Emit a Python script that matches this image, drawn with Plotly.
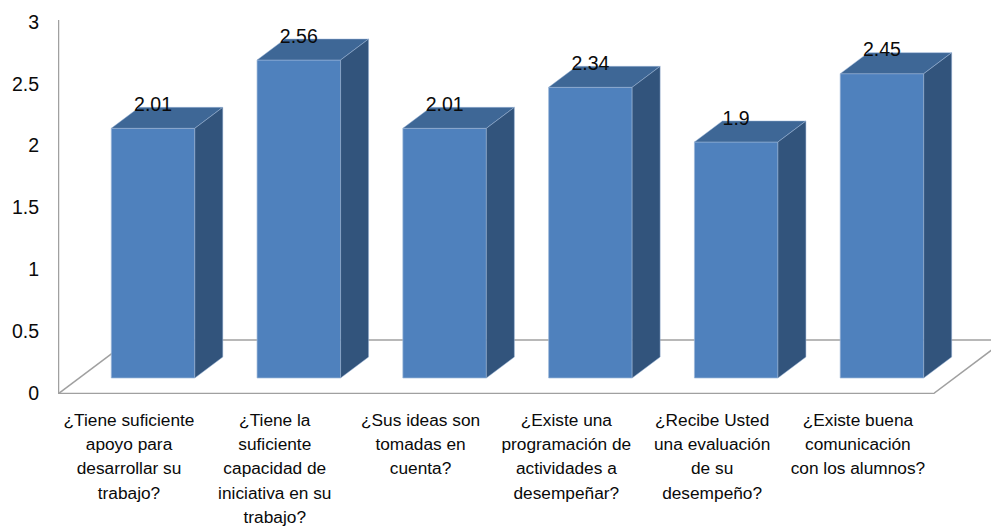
"""Columnas 3D de estilo Excel dibujadas con trazas 2D de Plotly."""

import plotly.graph_objects as go

# ── Datos ─────────────────────────────────────────────────────────────────────
PREGUNTAS = [
    ["¿Tiene suficiente", "apoyo para", "desarrollar su", "trabajo?"],
    ["¿Tiene la", "suficiente", "capacidad de", "iniciativa en su", "trabajo?"],
    ["¿Sus ideas son", "tomadas en", "cuenta?"],
    ["¿Existe una", "programación de", "actividades a", "desempeñar?"],
    ["¿Recibe Usted", "una evaluación", "de su", "desempeño?"],
    ["¿Existe buena", "comunicación", "con los alumnos?"],
]
VALORES = [2.01, 2.56, 2.01, 2.34, 1.9, 2.45]
ETIQUETAS = ["2.01", "2.56", "2.01", "2.34", "1.9", "2.45"]
TICKS_Y = [0, 0.5, 1, 1.5, 2, 2.5, 3]
TICKS_Y_TEXTO = ["0", "0.5", "1", "1.5", "2", "2.5", "3"]

# ── Estilo ────────────────────────────────────────────────────────────────────
FRENTE = "#4F81BD"
TAPA = "#3E6796"
LADO = "#32547C"
BORDE = "#9DB7D8"
GRIS = "#A0A0A0"
TEXTO = "#0A0A0A"
FUENTE = "Liberation Sans, Arial, sans-serif"

# Escala: una categoría = 145.8 px, una unidad = 124.2 px
ANCHO = 0.573
PROF_X = 0.192
PROF_Y = 0.169
DESPLAZA_TICK = -0.121   # las marcas del eje están en la pared frontal
ESCALA_TICK = 0.996
DESPLAZA_CAT = -0.165    # los rótulos quedan a la izquierda de cada columna
SUBE_ETIQUETA = 0.178
X_MIN, X_MAX = -0.652, 5.748
Y_MIN, Y_MAX = -0.129, 2.882
X_SUELO_DER = 5.35
Y_SUELO_FONDO = 0.306

posiciones = list(range(len(VALORES)))

# Rótulos con letra menor que el interlineado (la original es estrecha)
rotulos = [
    "<br>".join(f'<span style="font-size:17.3px">{linea}</span>' for linea in lineas)
    for lineas in PREGUNTAS
]

# Caras laterales y superiores
lado_x, lado_y, tapa_x, tapa_y = [], [], [], []
for x, v in zip(posiciones, VALORES):
    izq, der = x - ANCHO / 2, x + ANCHO / 2
    lado_x += [der, der + PROF_X, der + PROF_X, der, der, None]
    lado_y += [0, PROF_Y, v + PROF_Y, v, 0, None]
    tapa_x += [izq, izq + PROF_X, der + PROF_X, der, izq, None]
    tapa_y += [v, v + PROF_Y, v + PROF_Y, v, v, None]

fig = go.Figure()
fig.add_trace(go.Bar(
    x=posiciones, y=VALORES, width=ANCHO,
    marker=dict(color=FRENTE, line=dict(color=BORDE, width=0.7)),
))
for cx, cy, color in [(tapa_x, tapa_y, TAPA), (lado_x, lado_y, LADO)]:
    fig.add_trace(go.Scatter(
        x=cx, y=cy, mode="lines", fill="toself", fillcolor=color,
        line=dict(color=BORDE, width=0.5),
    ))
fig.add_trace(go.Scatter(
    x=posiciones, y=[v + SUBE_ETIQUETA for v in VALORES],
    mode="text", text=ETIQUETAS, textposition="middle center",
    textfont=dict(family=FUENTE, size=19.5, color=TEXTO),
))

# Paredes y suelo, por detrás de las columnas
x_fondo_izq = X_MIN + (Y_SUELO_FONDO - Y_MIN) * PROF_X / PROF_Y
x_fondo_der = X_SUELO_DER + (Y_SUELO_FONDO - Y_MIN) * PROF_X / PROF_Y
for x0, y0, x1, y1, grosor in [
    (X_MIN, Y_MIN, X_MIN, Y_MAX, 2.5),
    (X_MIN, Y_MIN, X_SUELO_DER, Y_MIN, 2.5),
    (X_MIN, Y_MIN, x_fondo_izq, Y_SUELO_FONDO, 1.5),
    (X_SUELO_DER, Y_MIN, x_fondo_der, Y_SUELO_FONDO, 1.5),
    (x_fondo_izq, Y_SUELO_FONDO, x_fondo_der, Y_SUELO_FONDO, 1.5),
]:
    fig.add_shape(type="line", x0=x0, y0=y0, x1=x1, y1=y1, layer="below",
                  line=dict(color=GRIS, width=grosor))

fig.update_layout(
    width=991, height=527,
    margin=dict(l=58, r=0, t=20, b=133, autoexpand=False),
    paper_bgcolor="white", plot_bgcolor="white",
    showlegend=False,
    font=dict(family=FUENTE, color=TEXTO),
    xaxis=dict(
        range=[X_MIN, X_MAX], showgrid=False, zeroline=False, showline=False,
        tickmode="array", tickvals=[p + DESPLAZA_CAT for p in posiciones],
        ticktext=rotulos, tickangle=0, ticks="outside", ticklen=8,
        tickcolor="rgba(0,0,0,0)", tickfont=dict(size=18.8, color=TEXTO),
    ),
    yaxis=dict(
        range=[Y_MIN, Y_MAX], showgrid=False, zeroline=False, showline=False,
        tickmode="array",
        tickvals=[t * ESCALA_TICK + DESPLAZA_TICK for t in TICKS_Y],
        ticktext=TICKS_Y_TEXTO, ticks="outside", ticklen=14,
        tickcolor="rgba(0,0,0,0)", tickfont=dict(size=19.5, color=TEXTO),
    ),
)

# Sin el margen de 8 px que el navegador da a la página
fig.write_html("out.html", config=dict(displayModeBar=False),
               post_script="document.body.style.margin = '0';")
